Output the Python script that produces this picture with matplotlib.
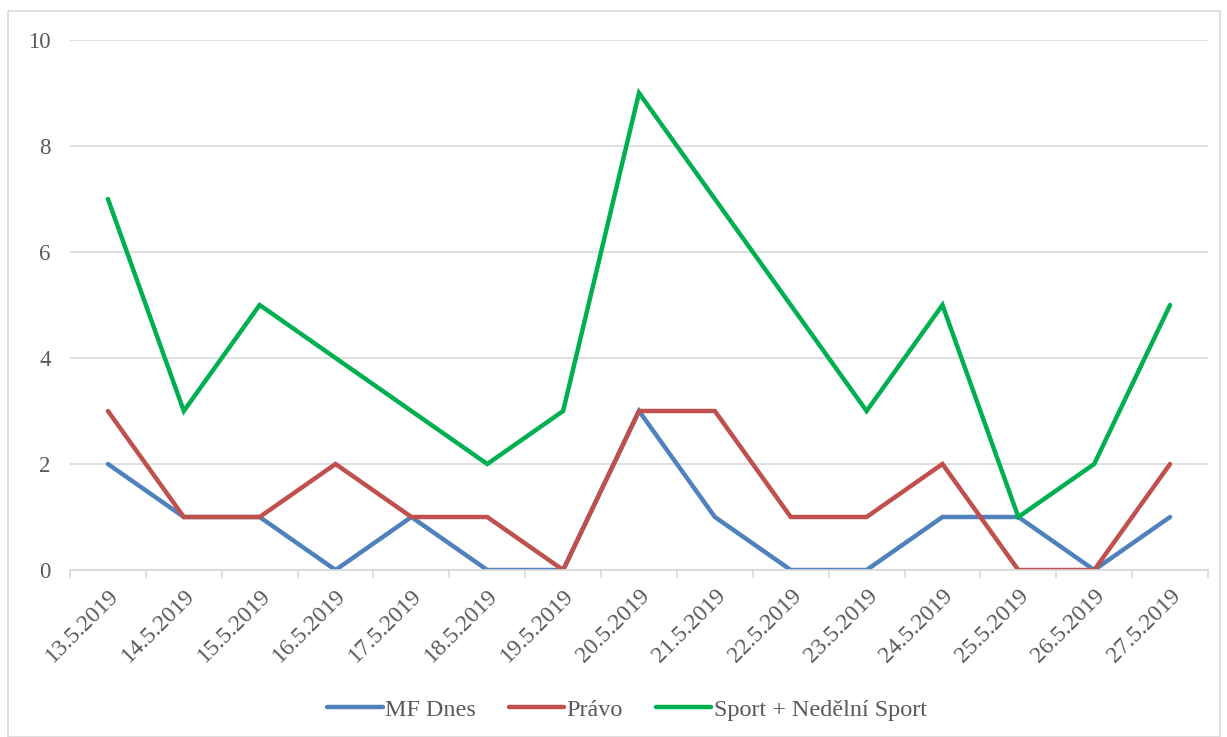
import matplotlib.pyplot as plt
from matplotlib.patches import Rectangle
import numpy as np

dates = ['13.5.2019', '14.5.2019', '15.5.2019', '16.5.2019', '17.5.2019',
         '18.5.2019', '19.5.2019', '20.5.2019', '21.5.2019', '22.5.2019',
         '23.5.2019', '24.5.2019', '25.5.2019', '26.5.2019', '27.5.2019']
mf_dnes = [2, 1, 1, 0, 1, 0, 0, 3, 1, 0, 0, 1, 1, 0, 1]
pravo = [3, 1, 1, 2, 1, 1, 0, 3, 3, 1, 1, 2, 0, 0, 2]
sport = [7, 3, 5, 4, 3, 2, 3, 9, 7, 5, 3, 5, 1, 2, 5]

plt.rcParams['font.family'] = ['Liberation Serif', 'DejaVu Serif']

W, H = 1227, 737
fig = plt.figure(figsize=(W / 100, H / 100), dpi=100)
ax = fig.add_axes([70 / W, 1 - 570 / H, (1208 - 70) / W, (570 - 40) / H])

x = np.arange(len(dates))
ax.plot(x, mf_dnes, color='#4F81BD', lw=3.2, label='MF Dnes', solid_joinstyle='miter', solid_capstyle='round')
ax.plot(x, pravo, color='#C0504D', lw=3.2, label='Právo', solid_joinstyle='miter', solid_capstyle='round')
ax.plot(x, sport, color='#00B050', lw=3.2, label='Sport + Nedělní Sport', solid_joinstyle='miter', solid_capstyle='round')

ax.set_xlim(-0.5, len(dates) - 0.5)
ax.set_ylim(0, 10)
ax.set_yticks(range(0, 11, 2))
ax.yaxis.grid(True, color='#D9D9D9', lw=1.2)
ax.set_axisbelow(True)
for s in ['top', 'right', 'left']:
    ax.spines[s].set_visible(False)
ax.spines['bottom'].set_color('#D9D9D9')
ax.spines['bottom'].set_linewidth(1.2)

# tick marks between categories, labels centred under each category
ax.set_xticks(np.arange(-0.5, len(dates), 1))
ax.set_xticklabels([])
ax.tick_params(axis='x', which='major', length=6, color='#D9D9D9', width=1.2)
ax.set_xticks(x, minor=True)
ax.set_xticklabels(dates, minor=True, rotation=45, ha='right', rotation_mode='anchor',
                   fontsize=17, color='#595959')
ax.tick_params(axis='x', which='minor', length=0, pad=11)
ax.tick_params(axis='y', length=0, labelsize=16.5, labelcolor='#595959', pad=14)

leg = fig.legend(loc='center', bbox_to_anchor=(627 / W, 1 - 710 / H), ncol=3, frameon=False,
                 fontsize=17.4, handlelength=2.3, handletextpad=0.1, columnspacing=1.35)
for t in leg.get_texts():
    t.set_color('#595959')

fig.patches.append(Rectangle((8 / W, 0), (1220 - 8) / W, 1 - 11 / H, transform=fig.transFigure,
                             fill=False, edgecolor='#D9D9D9', lw=1.2))

fig.savefig('out.png', dpi=100)
